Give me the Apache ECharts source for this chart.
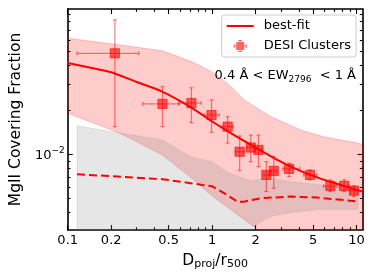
<!DOCTYPE html>
<html><head><meta charset="utf-8">
<script src="https://cdn.jsdelivr.net/npm/echarts@6/dist/echarts.min.js"></script>
<style>html,body{margin:0;padding:0;background:#fff}#c{width:374px;height:280px}</style>
</head><body><div id="c"></div>
<script>
// ---- axis ticks ----
const xMajorTicks = [0.1, 0.2, 0.5, 1, 2, 5, 10];
const xMinorTicks = [0.3, 0.4, 0.6, 0.7, 0.8, 0.9, 3, 4, 6, 7, 8, 9];
const yMajorTicks = [0.01];
const yMinorTicks = [0.004, 0.005, 0.006, 0.007, 0.008, 0.009, 0.02, 0.03, 0.04, 0.05, 0.06, 0.07, 0.08, 0.09];
const xRange = [0.1, 11];
const yRange = [0.00305, 0.0973];

// ---- best-fit curve ----
const fitX = [0.1, 0.15, 0.2, 0.3, 0.45, 0.7, 1.0, 1.4, 2.0, 2.8, 4.0, 5.5, 7.5, 10, 11];
const fitY = [0.0418, 0.0384, 0.0361, 0.031, 0.0267, 0.0211, 0.0167, 0.0136, 0.0111, 0.0092, 0.00776, 0.00688, 0.00624, 0.00572, 0.00558];

// ---- best-fit band ----
const bandUpX = [0.1, 0.206, 0.453, 0.726, 1.0, 1.29, 1.67, 2.5, 4.1, 6.0, 10.2, 11];
const bandUpY = [0.0615, 0.0562, 0.0505, 0.0425, 0.0363, 0.0301, 0.0234, 0.0182, 0.0146, 0.0131, 0.0119, 0.0116];
const bandLoX = [0.1, 0.23, 0.45, 0.7, 1.0, 1.26, 1.6, 2.0, 2.5, 3.2, 11];
const bandLoY = [0.019, 0.0139, 0.0099, 0.00704, 0.0052, 0.0044, 0.0037, 0.00315, 0.0027, 0.0022, 0.0015];

// ---- dashed curve and its (gray) band ----
const dashX = [0.116, 0.453, 0.708, 1.0, 1.26, 1.5, 1.65, 2.17, 3.5, 5.3, 10.2];
const dashY = [0.00731, 0.00676, 0.00635, 0.00605, 0.0053, 0.00475, 0.00475, 0.00502, 0.00515, 0.00507, 0.00477];
const grayUpX = [0.116, 0.453, 0.708, 1.0, 1.26, 1.67, 1.86, 2.43, 3.5, 5.5, 10.2];
const grayUpY = [0.0156, 0.0125, 0.0096, 0.0089, 0.0076, 0.0068, 0.0066, 0.0069, 0.0065, 0.0062, 0.0057];
const grayLoX = [0.116, 1.6, 1.87, 2.1, 2.6, 3.5, 5.5, 10.2];
const grayLoY = [0.0022, 0.0024, 0.00305, 0.0034, 0.0038, 0.0040, 0.0042, 0.0042];

// ---- DESI cluster measurements ----
const ptX   = [0.212, 0.453, 0.718, 0.99, 1.28, 1.55, 1.85, 2.09, 2.37, 2.67, 3.41, 4.75, 6.58, 8.2, 9.6];
const ptY   = [0.0486, 0.022, 0.0223, 0.0185, 0.0154, 0.0104, 0.0111, 0.0107, 0.00723, 0.00769, 0.00795, 0.00723, 0.00608, 0.00608, 0.00565];
const ptXlo = [0.116, 0.331, 0.589, 0.88, 1.17, 1.45, 1.74, 1.98, 2.28, 2.55, 3.08, 4.3, 5.9, 7.6, 9.0];
const ptXhi = [0.31, 0.589, 0.84, 1.12, 1.40, 1.66, 1.96, 2.2, 2.47, 2.8, 4.04, 5.3, 7.3, 8.8, 10.2];
const ptYlo = [0.0154, 0.0154, 0.0164, 0.0141, 0.0119, 0.00774, 0.0089, 0.00823, 0.00557, 0.00587, 0.00705, 0.0067, 0.00557, 0.00557, 0.00514];
const ptYhi = [0.082, 0.0288, 0.0283, 0.0234, 0.018, 0.0133, 0.0135, 0.0135, 0.0089, 0.00963, 0.00869, 0.0078, 0.00669, 0.00669, 0.00609];

const L = Math.log10;
const FONT = 'DejaVu Sans';
const pairs = (xs, ys) => xs.map((x, i) => [L(x), L(ys[i])]);

function bandSeries(upX, upY, loX, loY, fill, stroke) {
  const data = pairs(upX, upY).concat(pairs(loX, loY).reverse());
  return {
    type: 'custom', clip: true, silent: true, data: data, encode: {x: 0, y: 1}, z: 1,
    renderItem: function (params, api) {
      if (params.dataIndexInside !== 0) return;
      const pts = [];
      for (let i = 0; i < data.length; i++) pts.push(api.coord([api.value(0, i), api.value(1, i)]));
      return {type: 'polygon', shape: {points: pts}, style: {fill: fill, stroke: stroke, lineWidth: 1}};
    }
  };
}

const ptData = ptX.map((x, i) => [L(x), L(ptY[i]), L(ptXlo[i]), L(ptXhi[i]), L(ptYlo[i]), L(ptYhi[i])]);
const barColor = 'rgba(255,0,0,0.5)';
const sqColor = 'rgba(255,0,0,0.6)';

function fmtTick(v) { return String(Number(Math.pow(10, v).toPrecision(2))); }

const axisLineStyle = {show: true, onZero: false, lineStyle: {color: '#000', width: 1.6}};
function xAx(pos, ticks, len, label, line) {
  return {
    type: 'value', position: pos, min: L(xRange[0]), max: L(xRange[1]),
    splitLine: {show: false},
    axisLine: line ? axisLineStyle : {show: false, onZero: false},
    axisTick: {show: true, inside: true, length: len, lineStyle: {color: '#000', width: 1.1}, customValues: ticks.map(L)},
    axisLabel: label ? {show: true, customValues: ticks.map(L), formatter: fmtTick, fontSize: 13, fontFamily: FONT, color: '#000', margin: 4} : {show: false}
  };
}
function yAx(pos, ticks, len, label, line) {
  return {
    type: 'value', position: pos, min: L(yRange[0]), max: L(yRange[1]),
    splitLine: {show: false},
    axisLine: line ? axisLineStyle : {show: false, onZero: false},
    axisTick: {show: true, inside: true, length: len, lineStyle: {color: '#000', width: 1.1}, customValues: ticks.map(L)},
    axisLabel: label ? {
      show: true, customValues: ticks.map(L), margin: 3,
      formatter: function (v) { return '{b|10}{s|\u22122}'; },
      rich: {
        b: {fontSize: 13, fontFamily: FONT, color: '#000', verticalAlign: 'bottom', padding: [3, 0, 0, 0]},
        s: {fontSize: 9, fontFamily: FONT, color: '#000', verticalAlign: 'top'}
      }
    } : {show: false}
  };
}

const xAxes = [
  xAx('bottom', xMajorTicks, 5, true, true),
  xAx('bottom', xMinorTicks, 2.8, false, false),
  xAx('top', xMajorTicks, 5, false, true),
  xAx('top', xMinorTicks, 2.8, false, false)
];
Object.assign(xAxes[0], {
  name: '{m|D}{s|proj}{m|/r}{s|500}', nameLocation: 'middle', nameGap: 13,
  nameTextStyle: {
    rich: {
      m: {fontSize: 15.5, fontFamily: FONT, color: '#000', lineHeight: 17, verticalAlign: 'top'},
      s: {fontSize: 11, fontFamily: FONT, color: '#000', lineHeight: 12, verticalAlign: 'bottom', padding: [7, 0, 0, 0]}
    }
  }
});
const yAxes = [
  yAx('left', yMajorTicks, 5, true, true),
  yAx('left', yMinorTicks, 2.8, false, false),
  yAx('right', yMajorTicks, 5, false, true),
  yAx('right', yMinorTicks, 2.8, false, false)
];
Object.assign(yAxes[0], {
  name: 'MgII Covering Fraction', nameLocation: 'middle', nameGap: 35, nameRotate: 90,
  nameTextStyle: {fontSize: 15.5, fontFamily: FONT, color: '#000'}
});

const lineIcon = 'path://M0 0h0.01v0.01h-0.01z M26.99 13.99h0.01v0.01h-0.01z M0 6h27v2h-27z';
const desiIcon = 'path://M0 0h0.01v0.01h-0.01z M26.99 13.99h0.01v0.01h-0.01z ' +
  'M7 6.5h13v1h-13z M7 5h1v4h-1z M19 5h1v4h-1z M13 1h1v12h-1z M11.5 1h4v1h-4z M11.5 12h4v1h-4z M9.5 3h8v8h-8z';

const chart = echarts.init(document.getElementById('c'), null, {renderer: 'canvas'});
chart.setOption({
  animation: false,
  backgroundColor: '#fff',
  grid: {left: 64, right: 11.4, top: 9, bottom: 50, containLabel: false},
  xAxis: xAxes,
  yAxis: yAxes,
  legend: {
    orient: 'vertical', left: 221.7, top: 15, padding: [4, 5, 4, 5], itemGap: 6,
    itemWidth: 27, itemHeight: 14, selectedMode: false,
    backgroundColor: 'rgba(255,255,255,0.85)', borderColor: '#cccccc', borderWidth: 1, borderRadius: 3,
    textStyle: {fontSize: 13, fontFamily: FONT, color: '#000', padding: [0, 0, 0, 5]},
    data: [
      {name: 'best-fit', icon: lineIcon, itemStyle: {color: '#ff0000', borderWidth: 0}},
      {name: 'DESI Clusters', icon: desiIcon, itemStyle: {color: sqColor, borderWidth: 0}}
    ]
  },
  graphic: [{
    type: 'text', right: 18, top: 69, z: 100,
    style: {
      text: '{a|0.4 Å < EW}{s|2796}{a|  < 1 Å}',
      rich: {
        a: {fontSize: 13, fontFamily: FONT, fill: '#000', lineHeight: 15, verticalAlign: 'top'},
        s: {fontSize: 9, fontFamily: FONT, fill: '#000', lineHeight: 10, verticalAlign: 'bottom', padding: [6, 0, 0, 0]}
      }
    }
  }],
  series: [
    bandSeries(bandUpX, bandUpY, bandLoX, bandLoY, 'rgba(255,0,0,0.2)', 'rgba(255,0,0,0.2)'),
    bandSeries(grayUpX, grayUpY, grayLoX, grayLoY, 'rgba(128,128,128,0.2)', 'rgba(128,128,128,0.15)'),
    {
      type: 'line', name: 'dashed', data: pairs(dashX, dashY), symbol: 'none', z: 3, silent: true,
      lineStyle: {color: '#ff0000', width: 2, type: [8, 4]}
    },
    {
      type: 'line', name: 'best-fit', data: pairs(fitX, fitY), symbol: 'none', smooth: 0.3, z: 4, silent: true,
      itemStyle: {color: '#ff0000'}, lineStyle: {color: '#ff0000', width: 2}
    },
    {
      type: 'custom', name: 'DESI Clusters', data: ptData, encode: {x: 0, y: 1}, z: 5, silent: true,
      itemStyle: {color: sqColor},
      renderItem: function (params, api) {
        const c = api.coord([api.value(0), api.value(1)]);
        const l = api.coord([api.value(2), api.value(1)]);
        const r = api.coord([api.value(3), api.value(1)]);
        const b = api.coord([api.value(0), api.value(4)]);
        const t = api.coord([api.value(0), api.value(5)]);
        const st = {stroke: barColor, lineWidth: 1.2};
        const cap = 2, s = 4.6;
        return {type: 'group', children: [
          {type: 'line', shape: {x1: l[0], y1: c[1], x2: r[0], y2: c[1]}, style: st},
          {type: 'line', shape: {x1: c[0], y1: b[1], x2: c[0], y2: t[1]}, style: st},
          {type: 'line', shape: {x1: l[0], y1: c[1] - cap, x2: l[0], y2: c[1] + cap}, style: st},
          {type: 'line', shape: {x1: r[0], y1: c[1] - cap, x2: r[0], y2: c[1] + cap}, style: st},
          {type: 'line', shape: {x1: c[0] - cap, y1: b[1], x2: c[0] + cap, y2: b[1]}, style: st},
          {type: 'line', shape: {x1: c[0] - cap, y1: t[1], x2: c[0] + cap, y2: t[1]}, style: st},
          {type: 'rect', shape: {x: c[0] - s, y: c[1] - s, width: 2 * s, height: 2 * s}, style: {fill: sqColor, stroke: sqColor, lineWidth: 1}}
        ]};
      }
    }
  ]
});
</script></body></html>
